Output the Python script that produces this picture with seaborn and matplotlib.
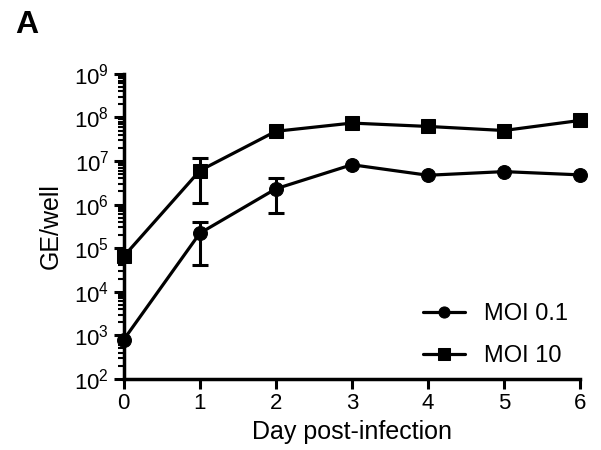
import seaborn as sns
import matplotlib.pyplot as plt
from matplotlib.ticker import LogLocator, NullFormatter, FixedLocator
import numpy as np
import pandas as pd

# Genome equivalents per well over time
days = [0, 1, 2, 3, 4, 5, 6]
moi_01 = [8e2, 2.2e5, 2.3e6, 8.2e6, 4.7e6, 5.7e6, 4.8e6]
moi_10 = [6.5e4, 6.0e6, 4.8e7, 7.4e7, 6.2e7, 5.0e7, 8.5e7]
# error bar ends (lower, upper)
moi_01_lo = [8e2, 4.0e4, 6.5e5, 8.2e6, 4.7e6, 5.7e6, 4.8e6]
moi_01_hi = [8e2, 3.9e5, 4.1e6, 8.2e6, 4.7e6, 5.7e6, 4.8e6]
moi_10_lo = [6.5e4, 1.1e6, 4.8e7, 7.4e7, 6.2e7, 5.0e7, 8.5e7]
moi_10_hi = [6.5e4, 1.2e7, 4.8e7, 7.4e7, 6.2e7, 5.0e7, 8.5e7]
series = ["MOI 0.1", "MOI 10"]

df = pd.DataFrame({
    "day": days * 2,
    "ge": moi_01 + moi_10,
    "group": [series[0]] * 7 + [series[1]] * 7,
})

sns.set_style("ticks", {"axes.edgecolor": "black", "text.color": "black",
                        "xtick.color": "black", "ytick.color": "black",
                        "axes.labelcolor": "black"})
plt.rcParams["font.family"] = ["Liberation Sans", "DejaVu Sans"]
plt.rcParams["mathtext.default"] = "regular"

fig = plt.figure(figsize=(6.01, 4.5), dpi=100)
ax = fig.add_axes([0.206, 0.158, 0.759, 0.678])

sns.lineplot(data=df, x="day", y="ge", style="group", markers={"MOI 0.1": "o", "MOI 10": "s"},
             dashes=False, color="black", linewidth=2.3, markersize=10, ax=ax,
             markeredgecolor="black", clip_on=False, zorder=3)

for vals, lo, hi in [(moi_01, moi_01_lo, moi_01_hi), (moi_10, moi_10_lo, moi_10_hi)]:
    v = np.array(vals)
    lo = np.array(lo)
    hi = np.array(hi)
    has = hi > lo
    x = np.array(days)[has]
    err = [(v - lo)[has], (hi - v)[has]]
    ax.errorbar(x, v[has], yerr=err, fmt="none", ecolor="black", elinewidth=2.2,
                capsize=6, capthick=2.2, zorder=2)

ax.set_yscale("log")
ax.set_ylim(1e2, 1e9)
ax.set_xlim(0, 6)
ax.set_xticks(days)
ax.yaxis.set_major_locator(FixedLocator([10.0 ** k for k in range(2, 10)]))
ax.set_yticklabels([r"$10^{%d}$" % k for k in range(2, 10)])
ax.yaxis.set_minor_locator(LogLocator(base=10, subs=np.arange(2, 10), numticks=30))
ax.yaxis.set_minor_formatter(NullFormatter())

sns.despine(ax=ax)
for s in ["left", "bottom"]:
    ax.spines[s].set_linewidth(2.5)
ax.tick_params(axis="both", which="major", width=2.2, length=7, labelsize=16, direction="out")
ax.tick_params(axis="y", which="minor", width=1.5, length=4, color="black")

ax.set_xlabel("Day post-infection", fontsize=18, labelpad=4)
ax.set_ylabel("GE/well", fontsize=18, labelpad=8)

leg = ax.legend(loc="lower right", frameon=False, fontsize=17, handlelength=1.8,
                borderaxespad=0.1, labelspacing=0.85, title=None, markerscale=0.8)

fig.text(0.025, 0.927, "A", fontsize=23, fontweight="bold", va="baseline")

fig.savefig("out.png", dpi=100)
